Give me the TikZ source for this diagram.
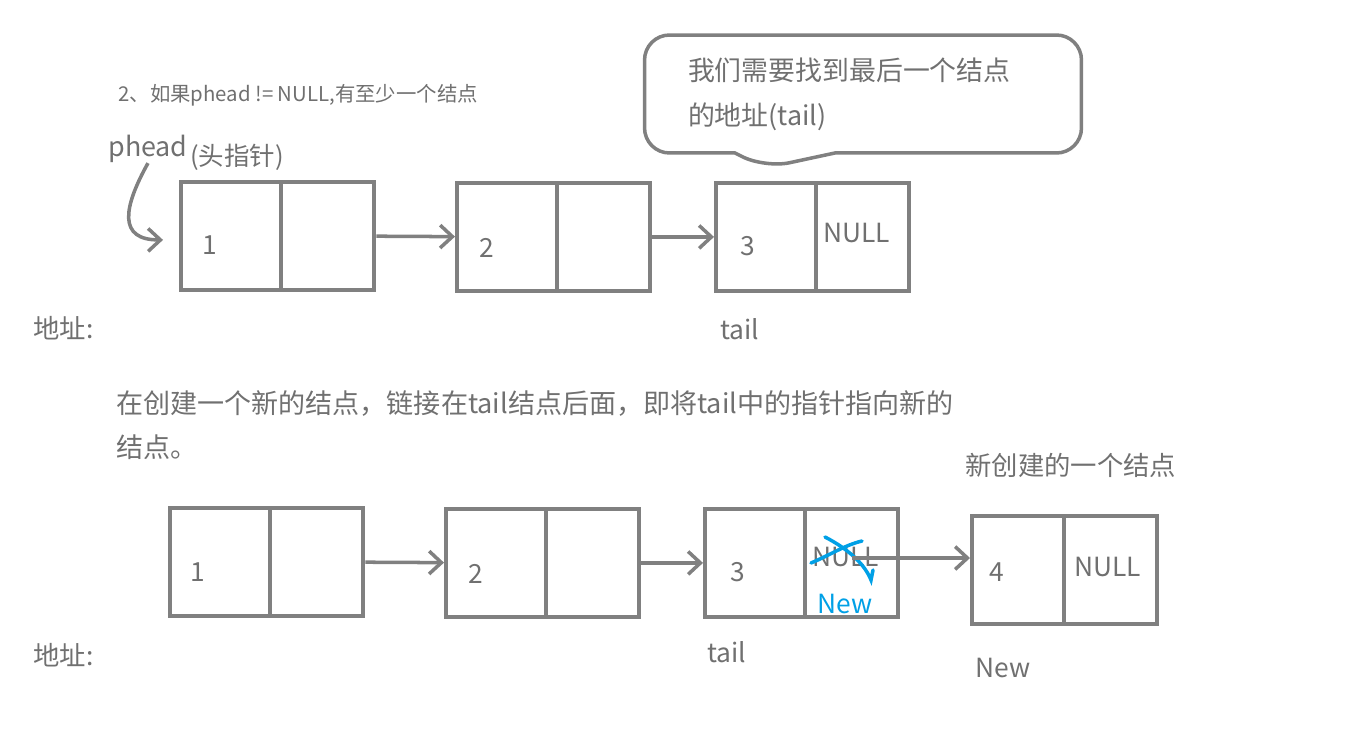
\documentclass[tikz,border=0pt]{standalone}
\usepackage{fontspec}
\usetikzlibrary{positioning, calc, arrows.meta, shapes.callouts}
\newfontfamily\cjk{Noto Sans CJK SC}
\definecolor{linegray}{RGB}{128,128,128}
\definecolor{textgray}{RGB}{112,112,112}
\definecolor{markblue}{RGB}{0,160,230}

\begin{document}
\begin{tikzpicture}[x=0.02cm, y=-0.02cm, font=\cjk\fontsize{15}{18}\selectfont, text=textgray,
    >={Straight Barb[length=7pt, width=13pt]},
    field/.style={draw=linegray, line width=2.2pt, minimum height=2.16cm, inner sep=0pt},
    link/.style={->, draw=linegray, line width=2pt},
    label/.style={anchor=west, inner sep=0pt}]
    \useasboundingbox (0,0) rectangle (1355,730);
    \node[label, font=\cjk\fontsize{11.6}{14}\selectfont] (title) at (118,95) {2、如果phead != NULL,有至少一个结点};
    \node[label, font=\cjk\fontsize{15.3}{18}\selectfont] (phead) at (108,149) {phead};
    \node[label, font=\cjk\fontsize{14.5}{17}\selectfont] (headptr) at (190,157) {(头指针)};
    \node[draw=linegray, line width=2pt, rectangle callout, rounded corners=0.5cm, callout absolute pointer={(765,168)}, callout pointer width=2cm, minimum width=8.74cm, minimum height=2.36cm, text width=7cm, align=left, font=\cjk\fontsize{15.3}{25.5}\selectfont] (note) at (863,94) {我们需要找到最后一个结点\\的地址(tail)};

    \node[field, minimum width=2cm, anchor=north west] (d1) at (179,180) {};
    \node[field, minimum width=1.87cm, right=-2.2pt of d1] (p1) {};
    \node[field, minimum width=2cm, anchor=north west] (d2) at (455,181) {};
    \node[field, minimum width=1.87cm, right=-2.2pt of d2] (p2) {};
    \node[field, minimum width=2cm, anchor=north west] (d3) at (714,181) {};
    \node[field, minimum width=1.87cm, right=-2.2pt of d3] (p3) {};
    \node[label] (v1) at (202,245) {1};
    \node[label] (v2) at (479,248) {2};
    \node[label] (v3) at (740,246) {3};
    \node[label] (null3) at (823,233) {NULL};
    \draw[link] (p1) -- (d2);
    \draw[link] (p2) -- (d3);
    \draw[link] (phead.south) .. controls +(-25,45) and +(-45,0) .. ($(d1.west)+(-16,4)$);
    \node[label] (addr1) at (33,328) {地址:};
    \node[label] (tail1) at (720,329) {tail};

    \node[label, align=left, font=\cjk\fontsize{15.4}{25}\selectfont] (todo) at (116,425) {在创建一个新的结点，链接在tail结点后面，即将tail中的指针指向新的\\结点。};
    \node[label] (newnote) at (965,465) {新创建的一个结点};

    \node[field, minimum width=2cm, anchor=north west] (e1) at (168,506) {};
    \node[field, minimum width=1.87cm, right=-2.2pt of e1] (q1) {};
    \node[field, minimum width=2cm, anchor=north west] (e2) at (444,507) {};
    \node[field, minimum width=1.87cm, right=-2.2pt of e2] (q2) {};
    \node[field, minimum width=2cm, anchor=north west] (e3) at (703,507) {};
    \node[field, minimum width=1.87cm, right=-2.2pt of e3] (q3) {};
    \node[field, minimum width=1.84cm, anchor=north west] (e4) at (970,514) {};
    \node[field, minimum width=1.86cm, right=-2.2pt of e4] (q4) {};
    \node[label] (w1) at (190,572) {1};
    \node[label] (w2) at (468,574) {2};
    \node[label] (w3) at (730,572) {3};
    \node[label] (w4) at (989,572) {4};
    \node[label] (null5) at (812,557) {NULL};
    \node[label] (null4) at (1074,567) {NULL};
    \node[label, text=markblue] (newptr) at (817,604) {New};
    \draw[markblue, line width=2pt, line cap=round] (811,563) .. controls (830,555) and (845,545) .. (862,541);
    \draw[markblue, line width=2pt, line cap=round] (825,537) .. controls (850,550) and (865,565) .. (871,580) -- (873,570);
    \coordinate (cut) at (852,558);
    \draw[link] (q1) -- (e2);
    \draw[link] (q2) -- (e3);
    \draw[link] (cut) -- (e4.west |- cut);
    \node[label] (addr2) at (33,655) {地址:};
    \node[label] (tail2) at (707,652) {tail};
    \node[label] (new4) at (975,668) {New};
\end{tikzpicture}
\end{document}
